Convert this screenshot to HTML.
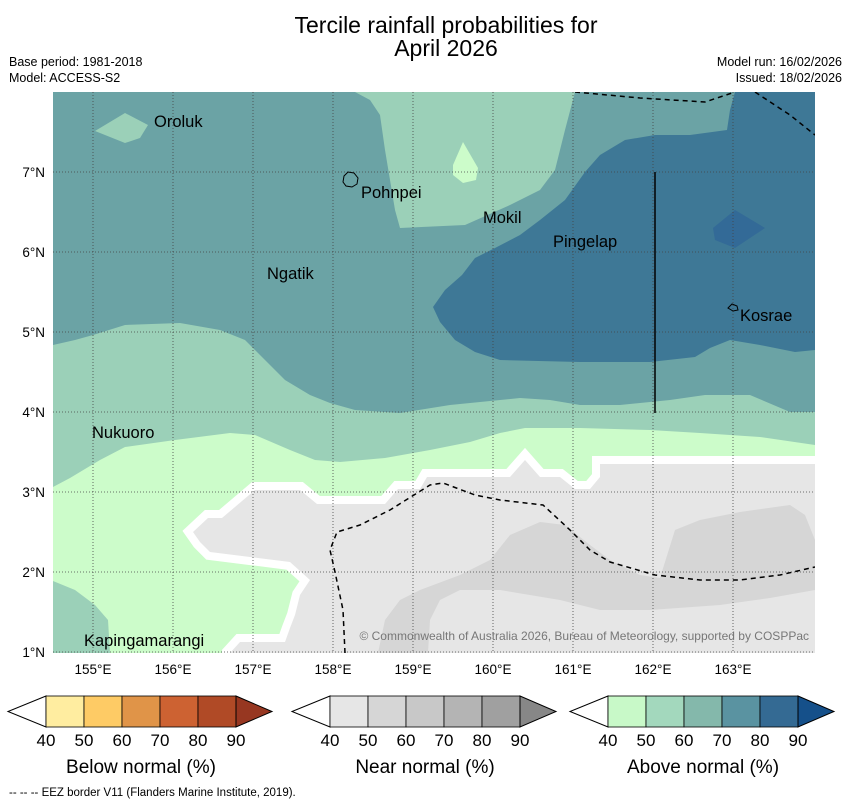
<!DOCTYPE html>
<html><head><meta charset="utf-8"><style>
body{margin:0;background:#fff;width:850px;height:804px;overflow:hidden;font-family:"Liberation Sans","DejaVu Sans",sans-serif}
svg text{font-family:"Liberation Sans","DejaVu Sans",sans-serif}
</style></head><body>
<svg id="chart" width="850" height="804" viewBox="0 0 850 804" xmlns="http://www.w3.org/2000/svg">
<text x="446" y="33" font-size="23" text-anchor="middle">Tercile rainfall probabilities for</text>
<text x="446" y="56" font-size="23" text-anchor="middle">April 2026</text>
<text x="9" y="66" font-size="12.5">Base period: 1981-2018</text>
<text x="9" y="82" font-size="12.5">Model: ACCESS-S2</text>
<text x="842" y="66" font-size="12.5" text-anchor="end">Model run: 16/02/2026</text>
<text x="842" y="82" font-size="12.5" text-anchor="end">Issued: 18/02/2026</text>
<defs><clipPath id="mapclip"><rect x="53" y="92" width="762" height="561"/></clipPath></defs>
<g clip-path="url(#mapclip)">
<rect x="53" y="92" width="762" height="561" fill="#6ba3a5"/>
<polygon fill="#9bd0b8" points="355,92 370,100 380,115 385,150 395,210 400,228 465,225 510,205 540,190 555,170 565,130 575,92"/>
<polygon fill="#9bd0b8" points="95,131 125,113 148,125 140,138 125,143"/>
<polygon fill="#ccfcca" points="463,142 478,168 476,180 463,183 453,175 453,165"/>
<polygon fill="#3e7896" points="735,92 815,92 815,350 795,352 760,345 730,340 710,348 695,357 650,362 580,362 500,360 475,352 455,340 440,322 433,307 445,290 462,275 475,258 495,248 520,235 540,220 565,200 585,172 600,155 625,140 655,135 690,135 727,130 730,110"/>
<polygon fill="#336a97" points="713,228 735,210 765,228 735,248 715,240"/>
<polygon fill="#9bd0b8" points="53,345 75,340 93,335 125,325 180,323 220,330 245,340 265,360 285,380 310,395 330,403 355,410 400,413 450,405 520,398 550,400 580,405 620,405 670,400 705,395 750,395 790,412 815,412 815,653 53,653"/>
<polygon fill="#ccfcca" points="53,487 70,478 100,460 125,447 175,440 230,433 255,435 290,450 315,460 340,462 385,458 430,450 470,442 500,433 525,428 580,428 650,430 700,433 760,437 815,445 815,653 53,653"/>
<polygon fill="#9bd0b8" points="53,581 75,590 95,605 108,620 110,653 53,653"/>
<polygon fill="#e6e6e6" stroke="#fff" stroke-width="16" paint-order="stroke" stroke-linejoin="miter" points="193,532 208,518 222,518 255,490 300,490 317,504 385,504 398,489 420,489 427,477 510,477 525,460 540,477 560,477 575,489 590,489 600,477 600,464 830,464 830,670 230,670 230,653 240,642 285,642 290,628 295,615 300,595 310,580 290,562 250,557 210,552 200,542"/>
<polygon fill="#d6d6d6" points="378,653 385,620 400,600 420,590 460,575 490,560 510,535 540,522 565,525 590,545 610,560 640,575 660,578 675,530 700,520 740,512 790,505 805,515 815,540 815,590 770,598 720,605 650,610 600,610 560,600 500,590 460,590 440,600 430,620 428,653"/>
<g id="grid" stroke="#444" stroke-width="0.8" stroke-dasharray="1,2"></g>
<polyline fill="none" stroke="#000" stroke-width="1.5" stroke-dasharray="5,4" points="575,92 640,98 705,102 735,92"/>
<polyline fill="none" stroke="#000" stroke-width="1.5" stroke-dasharray="5,4" points="755,92 790,115 815,135"/>
<polyline fill="none" stroke="#000" stroke-width="1.5" stroke-dasharray="5,4" points="345,653 343,610 335,572 330,550 337,532 360,525 390,510 430,485 443,483 475,495 500,500 543,505 570,530 590,550 610,562 655,575 700,580 740,580 780,575 815,567"/>
<line x1="655" y1="172" x2="655" y2="413" stroke="#000" stroke-width="1.5"/>
<path d="M344,176 l4,-4 l6,1 l4,5 l-1,6 l-5,3 l-6,-1 l-3,-4z" fill="none" stroke="#000" stroke-width="1"/>
<path d="M728,308 l4,-4 l5,2 l1,4 l-5,1z" fill="none" stroke="#000" stroke-width="1"/>
<g font-size="16.5" fill="#000">
<text x="154" y="127">Oroluk</text>
<text x="361" y="198">Pohnpei</text>
<text x="483" y="223">Mokil</text>
<text x="553" y="247">Pingelap</text>
<text x="267" y="279">Ngatik</text>
<text x="740" y="321">Kosrae</text>
<text x="92" y="438">Nukuoro</text>
<text x="84" y="646">Kapingamarangi</text>
</g>
<text x="809" y="640" font-size="12" fill="#777" text-anchor="end">© Commonwealth of Australia 2026, Bureau of Meteorology, supported by COSPPac</text>
</g>
<g id="axes" font-size="13.5"></g>
<g id="cbars"></g>
<text x="9" y="796" font-size="11.5">--  --  -- EEZ border V11 (Flanders Marine Institute, 2019).</text>
</svg>
<script>
const lonTicks=[155,156,157,158,159,160,161,162,163];
const latTicks=[1,2,3,4,5,6,7];
const levels=[40,50,60,70,80,90];
const belowColors=["#ffeda0","#fecb65","#e09448","#cd6232","#b04a26","#973721"];
const nearColors=["#e6e6e6","#d6d6d6","#c8c8c8","#b4b4b4","#a0a0a0","#878787"];
const aboveColors=["#c8f9c8","#a3d8bd","#84b8ab","#5a93a1","#346a93","#15508a"];
const cbTitles=["Below normal (%)","Near normal (%)","Above normal (%)"];
const NS="http://www.w3.org/2000/svg";
const xOf=lon=>53+(lon-154.5)*80;
const yOf=lat=>92+(8-lat)*80;
function mk(t,a,p){const e=document.createElementNS(NS,t);for(const k in a)e.setAttribute(k,a[k]);p.appendChild(e);return e;}
const grid=document.getElementById('grid'),axes=document.getElementById('axes');
lonTicks.forEach(l=>{const x=xOf(l);
 const g=mk('line',{x1:x,y1:92,x2:x,y2:653},grid);
 
 
 const t=mk('text',{x:x,y:674,'text-anchor':'middle'},axes);t.textContent=l+'°E';
 
 });
latTicks.forEach(l=>{const y=yOf(l);
 const g=mk('line',{x1:53,y1:y,x2:815,y2:y},grid);
 
 
 const t=mk('text',{x:45,y:y+5,'text-anchor':'end'},axes);t.textContent=l+'°N';
 
 });
const cb=document.getElementById('cbars');
[[46,belowColors],[330,nearColors],[608,aboveColors]].forEach(([x0,cols],i)=>{
 const w=38,yt=696,yb=727,ym=711.5,n=levels.length-1;
 const left=mk('polygon',{points:`${x0},${yt} ${x0-38},${ym} ${x0},${yb}`,fill:'#fff',stroke:'#000','stroke-width':1},cb);
 
 
 for(let k=0;k<n;k++){const r=mk('rect',{x:x0+k*w,y:yt,width:w,height:yb-yt,fill:cols[k],stroke:'#000','stroke-width':0.8},cb);
  
  }
 const xe=x0+n*w;
 const right=mk('polygon',{points:`${xe},${yt} ${xe+36},${ym} ${xe},${yb}`,fill:cols[n],stroke:'#000','stroke-width':1},cb);
 
 
 levels.forEach((v,k)=>{const t=mk('text',{x:x0+k*w,y:746,'font-size':17,'text-anchor':'middle'},cb);t.textContent=v;
  
  });
 const tt=mk('text',{x:x0+n*w/2,y:773,'font-size':19,'text-anchor':'middle'},cb);tt.textContent=cbTitles[i];
 
 
});
</script>
</body></html>
